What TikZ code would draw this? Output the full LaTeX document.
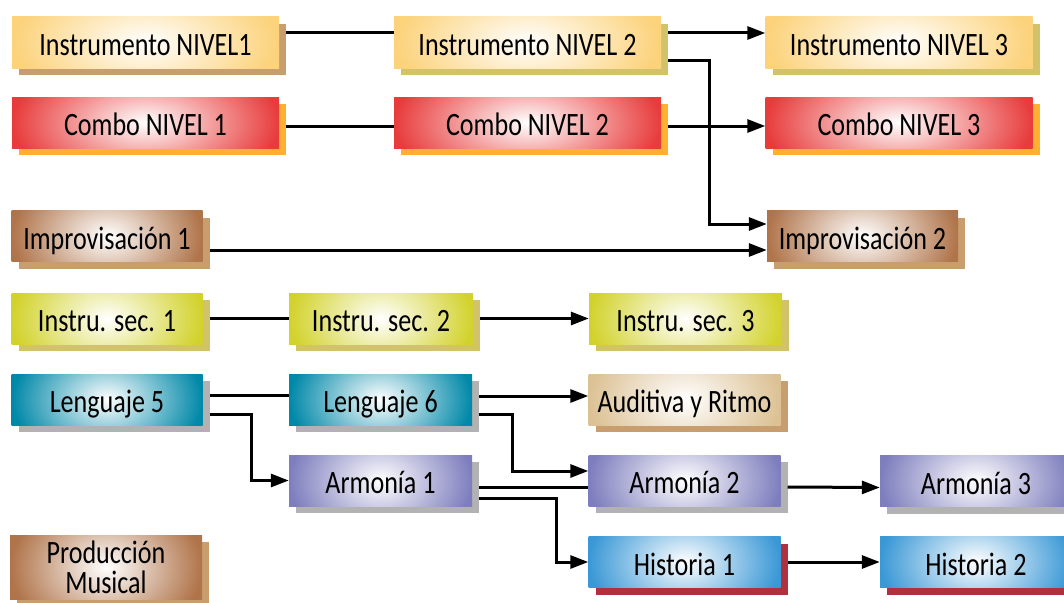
\documentclass[tikz,border=0pt]{standalone}
\usepackage{fontspec}
\setmainfont{Carlito}[FakeStretch=0.8]
\usetikzlibrary{arrows.meta,shadows}

\definecolor{instru}{HTML}{FCD27A}
\definecolor{combo}{HTML}{E83C3C}
\definecolor{impro}{HTML}{B0744A}
\definecolor{secc}{HTML}{D2D22C}
\definecolor{lengua}{HTML}{0088A8}
\definecolor{audit}{HTML}{DCC194}
\definecolor{armon}{HTML}{7E7EBE}
\definecolor{histo}{HTML}{3A98D6}
\definecolor{tanshade}{HTML}{C89E6E}
\definecolor{oliveshade}{HTML}{D2C36A}
\definecolor{orangeshade}{HTML}{FFB030}
\definecolor{greyshade}{HTML}{B2B2B2}
\definecolor{redshade}{HTML}{B03040}

\tikzset{
  course/.style 2 args={inner sep=0pt, minimum height=51pt, minimum width=191pt,
    font=\fontsize{32.6}{30}\selectfont, text height=26pt, text depth=0pt,
    drop shadow={shadow xshift=7pt, shadow yshift=-7pt, fill=#2, opacity=1},
    path picture={\shade[inner color=white, outer color=#1]
      ([yshift=-40pt]path picture bounding box.south west) rectangle
      ([yshift=40pt]path picture bounding box.north east);}},
  wide/.style={minimum width=267pt},
  link/.style={line width=3pt},
  prereq/.style={line width=3pt, -{Triangle[length=18pt,width=13pt]}},
}

\begin{document}
\begin{tikzpicture}[x=1pt, y=-1pt]
  \useasboundingbox (0,0) rectangle (1064,602);

  % instrumento y combo
  \node[course={instru}{tanshade}, wide] (in1) at (145.5,42.5) {Instrumento NIVEL1};
  \node[course={instru}{oliveshade}, wide] (in2) at (527.5,42.5) {Instrumento NIVEL 2};
  \node[course={instru}{oliveshade}, wide] (in3) at (899,42.5) {Instrumento NIVEL 3};
  \node[course={combo}{orangeshade}, wide] (co1) at (145.5,122.5) {Combo NIVEL 1};
  \node[course={combo}{orangeshade}, wide] (co2) at (527.5,122.5) {Combo NIVEL 2};
  \node[course={combo}{orangeshade}, wide] (co3) at (899,122.5) {Combo NIVEL 3};

  \node[course={impro}{tanshade}] (im1) at (107,236) {Improvisación 1};
  \node[course={impro}{tanshade}] (im2) at (862.5,236) {Improvisación 2};

  \node[course={secc}{oliveshade}] (is1) at (107,318.5) {Instru. sec. 1};
  \node[course={secc}{oliveshade}, minimum width=184pt] (is2) at (381,318.5) {Instru. sec. 2};
  \node[course={secc}{oliveshade}, minimum width=193pt] (is3) at (685.5,318.5) {Instru. sec. 3};

  % lenguaje, armonia, historia
  \node[course={lengua}{greyshade}] (le5) at (107,399.5) {Lenguaje 5};
  \node[course={lengua}{greyshade}, minimum width=183pt] (le6) at (380.5,399.5) {Lenguaje 6};
  \node[course={audit}{tanshade}, minimum width=192pt] (au) at (684.5,399.5) {Auditiva y Ritmo};
  \node[course={armon}{greyshade}, minimum width=183pt] (ar1) at (380.5,480.5) {Armonía 1};
  \node[course={armon}{greyshade}, minimum width=192pt] (ar2) at (684.5,480.5) {Armonía 2};
  \node[course={armon}{greyshade}, minimum width=192pt] (ar3) at (976,481) {Armonía 3};
  \node[course={histo}{redshade}, minimum width=192pt] (hi1) at (684.5,562) {Historia 1};
  \node[course={histo}{redshade}, minimum width=192pt] (hi2) at (976,562) {Historia 2};

  \node[course={impro}{tanshade}, minimum width=192pt, minimum height=64pt, align=center,
    text height=, text depth=] (pm) at (106,567) {Producción\\Musical};

  % conexiones
  \draw[link] ([shift={(7pt,9.5pt)}]in1.east) -- ([yshift=9.5pt]in2.west);
  \draw[prereq] ([shift={(7pt,9.5pt)}]in2.east) -- ([yshift=9.5pt]in3.west);
  \draw[prereq] ([shift={(7pt,-17.5pt)}]in2.east) -- ++(41pt,0) |- ([yshift=12pt]im2.west);
  \draw[link] ([shift={(7pt,-3.5pt)}]co1.east) -- ([yshift=-3.5pt]co2.west);
  \draw[prereq] ([shift={(7pt,-3.5pt)}]co2.east) -- ([yshift=-3.5pt]co3.west);
  \draw[prereq] ([shift={(7pt,-14pt)}]im1.east) -- ([yshift=-14pt]im2.west);

  \draw[link] ([xshift=7pt]is1.east) -- (is2.west);
  \draw[prereq] ([xshift=7pt]is2.east) -- (is3.west);

  \draw[link] ([shift={(7pt,4pt)}]le5.east) -- ([yshift=4pt]le6.west);
  \draw[prereq] ([shift={(7pt,-14.5pt)}]le5.east) -- ++(42pt,0) |- (ar1.west);
  \draw[prereq] ([shift={(7pt,3.5pt)}]le6.east) -- ([yshift=3.5pt]au.west);
  \draw[prereq] ([shift={(7pt,-14.5pt)}]le6.east) -- ++(33pt,0) |- ([yshift=9.5pt]ar2.west);
  \draw[link] ([shift={(7pt,-6.5pt)}]ar1.east) -- ([yshift=-6.5pt]ar2.west);
  \draw[prereq] ([shift={(7pt,-17.5pt)}]ar1.east) -- ++(77pt,0) |- (hi1.west);
  \draw[prereq] ([shift={(7pt,-6.5pt)}]ar2.east) -- ([yshift=-6.5pt]ar3.west);
  \draw[prereq] ([xshift=7pt]hi1.east) -- (hi2.west);
\end{tikzpicture}
\end{document}
